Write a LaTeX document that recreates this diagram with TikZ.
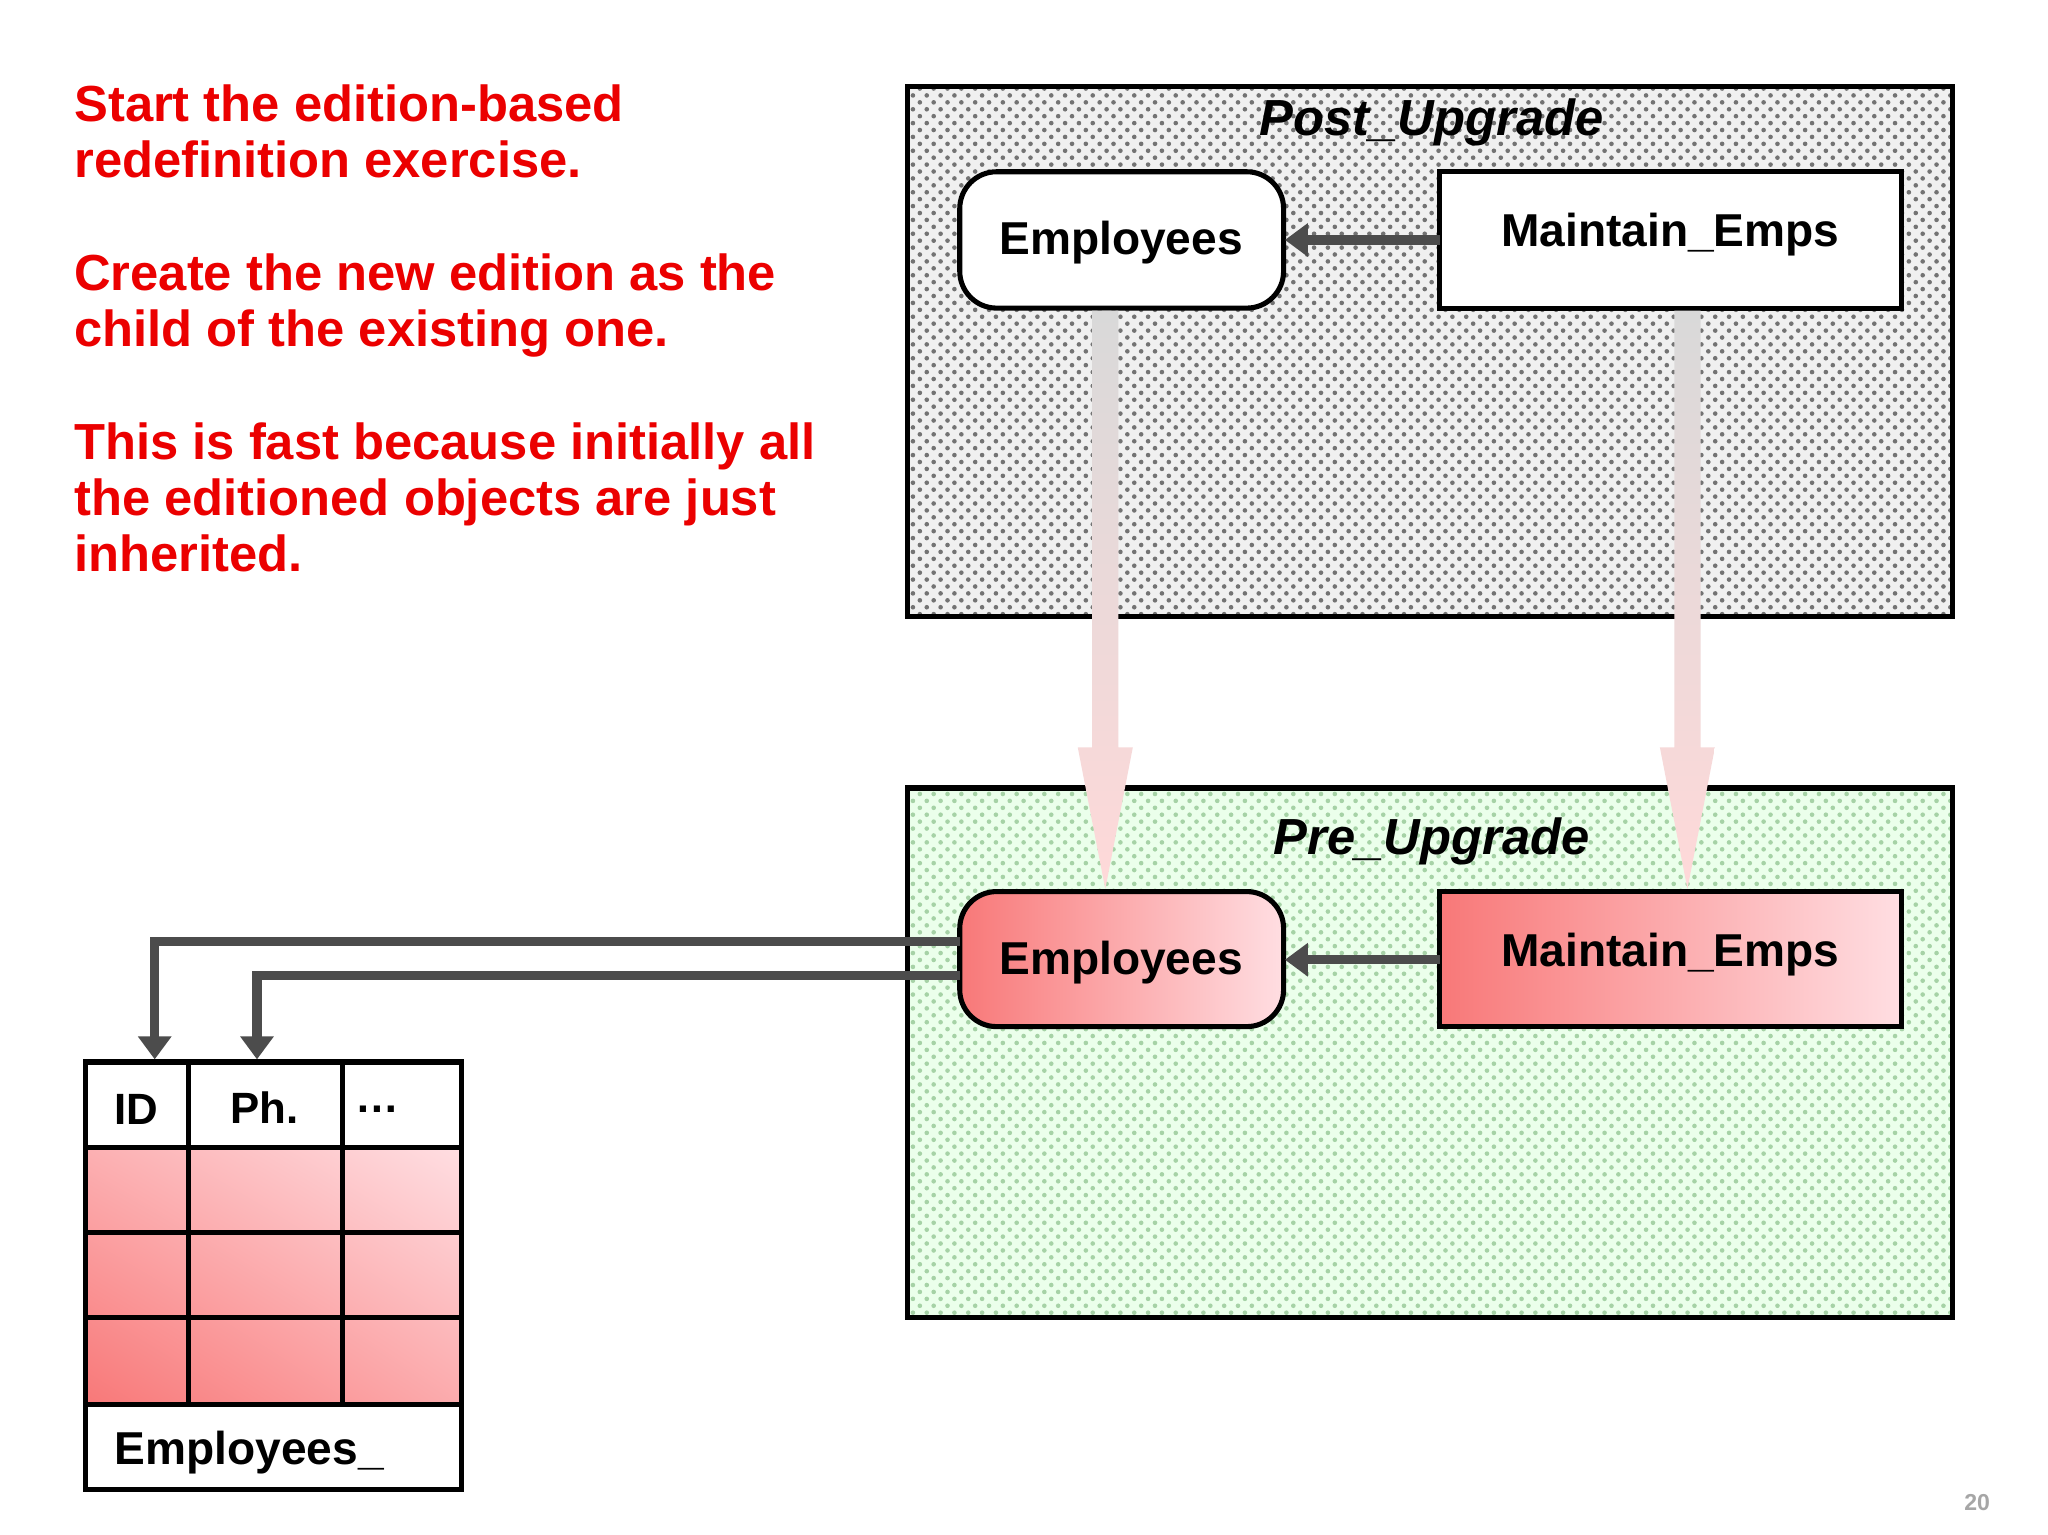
\documentclass[tikz,border=0pt]{standalone}
\usepackage{fontspec}
\setmainfont{Liberation Sans}
\usetikzlibrary{arrows.meta,patterns,shadings}
\definecolor{myred}{RGB}{235,0,0}
\definecolor{cellL}{RGB}{248,120,120}
\definecolor{cellR}{RGB}{255,222,226}
\begin{document}
\begin{tikzpicture}[x=0.01cm,y=-0.01cm,
  lbl/.style={font=\fontsize{10}{12}\selectfont\bfseries},
  conn/.style={draw=black!70,line width=2pt,-{Triangle[length=5pt,width=7pt]}},
  title/.style={font=\fontsize{11}{13}\selectfont\bfseries\itshape},
  lw/.style={line width=1.1pt}]
\useasboundingbox (0,0) rectangle (1562,1170);
\fill[white] (0,0) rectangle (1562,1170);
% left text
\node[anchor=north west,align=left,text=myred,font=\fontsize{11}{12.2}\selectfont\bfseries,inner sep=0pt] (txt) at (56,64)
{Start the edition-based\\redefinition exercise.\\[12.2pt]Create the new edition as the\\child of the existing one.\\[12.2pt]This is fast because initially all\\the editioned objects are just\\inherited.};
% Post box
\fill[black!6] (692,66) rectangle (1489,470);
\fill[pattern=crosshatch dots,pattern color=black!55] (692,66) rectangle (1489,470);
\draw[lw] (692,66) rectangle (1489,470);
\node[title] (posttitle) at (1092,93) {Post\_Upgrade};
\draw[lw,rounded corners=8pt,fill=white] (732,131) rectangle (979,235);
\node[lbl] (e1) at (855,185) {Employees};
\draw[lw,fill=white] (1098,131) rectangle (1450,235);
\node[lbl] (m1) at (1274,179) {Maintain\_Emps};
\coordinate (m1l) at (1098,183); \coordinate (e1r) at (980,183);
\draw[conn] (m1l) -- (e1r);
% Pre box
\fill[green!8] (692,601) rectangle (1489,1005);
\fill[pattern=crosshatch dots,pattern color=green!50!black!35] (692,601) rectangle (1489,1005);
\draw[lw] (692,601) rectangle (1489,1005);
\node[title] (pretitle) at (1092,642) {Pre\_Upgrade};
% big arrows
\foreach \xx in {843,1287}{
  \shade[top color=black!15,bottom color=pink!60] (\xx-10,237) -- (\xx+10,237) -- (\xx+10,570) -- (\xx+21,570) -- (\xx,678) -- (\xx-21,570) -- (\xx-10,570) -- cycle;
}
\shade[left color=cellL,right color=cellR,rounded corners=8pt,draw=black,lw] (732,680) rectangle (979,783);
\node[lbl] (e2) at (855,734) {Employees};
\shade[left color=cellL,right color=cellR,draw=black,lw] (1098,680) rectangle (1450,783);
\node[lbl] (m2) at (1274,728) {Maintain\_Emps};
\coordinate (m2l) at (1098,732); \coordinate (e2r) at (980,732);
\draw[conn] (m2l) -- (e2r);
% table
\shade[lower left=cellL,upper right=cellR,upper left=cellL!45!cellR,lower right=cellL!50!cellR] (65,875) rectangle (352,1071);
\draw[lw] (65,810) rectangle (352,1136);
\foreach \yy in {875,940,1005,1071} \draw[lw] (65,\yy) -- (352,\yy);
\draw[lw] (144,810) -- (144,1071) (261,810) -- (261,1071);
\node[font=\fontsize{9.5}{11}\selectfont\bfseries] (cid) at (104,846) {ID};
\node[font=\fontsize{9.5}{11}\selectfont\bfseries] (cph) at (202,845) {Ph.};
\node[font=\fontsize{9.5}{11}\selectfont\bfseries] (cdot) at (288,846) {\dots};
\node[anchor=west,lbl] (tname) at (75,1108) {Employees\_};
% connectors
\coordinate (e2a) at (732,718); \coordinate (e2b) at (732,744);
\coordinate (idtop) at (118,808); \coordinate (phtop) at (196,808);
\draw[conn] (e2a) -| (idtop);
\draw[conn] (e2b) -| (phtop);
\node[text=black!35,font=\fontsize{5}{6}\selectfont\bfseries] (pg) at (1508,1146) {20};
\end{tikzpicture}
\end{document}
